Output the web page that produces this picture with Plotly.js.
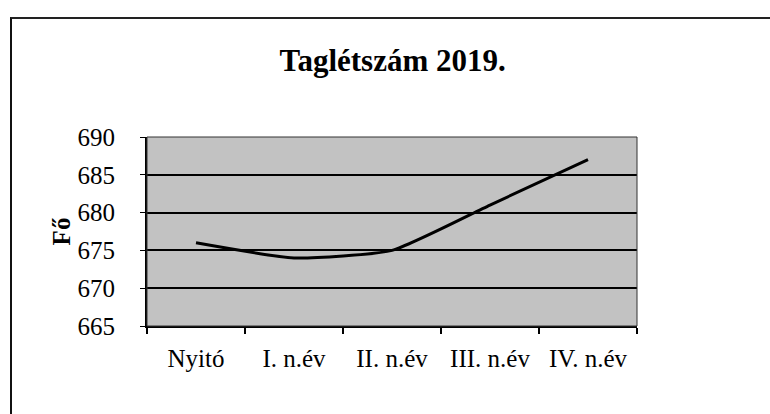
<!DOCTYPE html>
<html>
<head>
<meta charset="utf-8">
<script src="https://cdn.plot.ly/plotly-3.0.1.min.js"></script>
<style>
  html, body { margin: 0; padding: 0; background: #ffffff; }
  #wrap { position: relative; width: 770px; height: 414px; overflow: hidden; }
  #frame { position: absolute; left: 10px; top: 17px; width: 780px; height: 420px;
           border-left: 2px solid #111; border-top: 2px solid #222; box-sizing: border-box; pointer-events: none; }
  #chart { position: absolute; left: 0; top: 0; width: 770px; height: 414px; }
</style>
</head>
<body>
<div id="wrap">
  <div id="chart"></div>
  <div id="frame"></div>
</div>
<script>
const chartTitle = "Taglétszám 2019.";
const yAxisTitle = "Fő";
const categories = ["Nyitó", "I. n.év", "II. n.év", "III. n.év", "IV. n.év"];
const members = [676, 674, 675, 681, 687];
const yTicks = [665, 670, 675, 680, 685, 690];

const serif = "Liberation Serif";

const trace = {
  type: "scatter",
  mode: "lines",
  x: categories,
  y: members,
  line: { color: "#000000", width: 3, shape: "spline", smoothing: 0.5 },
  hoverinfo: "x+y",
  showlegend: false
};

const layout = {
  width: 770,
  height: 414,
  margin: { l: 147, r: 133, t: 137, b: 88 },
  paper_bgcolor: "#ffffff",
  plot_bgcolor: "#c2c2c2",
  font: { family: serif, color: "#000000" },
  title: {
    text: "<b>" + chartTitle + "</b>",
    font: { family: serif, size: 31, color: "#000000" },
    x: 0.51, xref: "container", xanchor: "center",
    y: 0.855, yref: "container", yanchor: "middle"
  },
  xaxis: {
    type: "category",
    categoryorder: "array",
    categoryarray: categories,
    range: [-0.5, categories.length - 0.5],
    tickson: "boundaries",
    ticks: "outside",
    ticklen: 6,
    tickwidth: 1.5,
    tickcolor: "#000000",
    showline: true,
    linecolor: "#000000",
    linewidth: 2,
    showgrid: false,
    zeroline: false,
    ticklabelstandoff: 9,
    tickfont: { family: serif, size: 25, color: "#000000" },
    automargin: false
  },
  yaxis: {
    range: [665, 690],
    tickvals: yTicks,
    ticktext: yTicks.map(String),
    ticks: "outside",
    ticklen: 5,
    tickwidth: 1,
    tickcolor: "#000000",
    showline: true,
    linecolor: "#000000",
    linewidth: 2,
    showgrid: true,
    gridcolor: "#000000",
    gridwidth: 2,
    zeroline: false,
    ticklabelstandoff: 20,
    tickfont: { family: serif, size: 25, color: "#000000" },
    title: {
      text: "<b>" + yAxisTitle + "</b>",
      font: { family: serif, size: 25, color: "#000000" },
      standoff: 0
    },
    automargin: false
  },
  shapes: [
    { type: "rect", xref: "paper", yref: "paper", x0: 0, x1: 1, y0: 0, y1: 1,
      line: { color: "#333333", width: 1 }, fillcolor: "rgba(0,0,0,0)", layer: "above" }
  ]
};

Plotly.newPlot("chart", [trace], layout, { displayModeBar: false, staticPlot: true });
</script>
</body>
</html>
